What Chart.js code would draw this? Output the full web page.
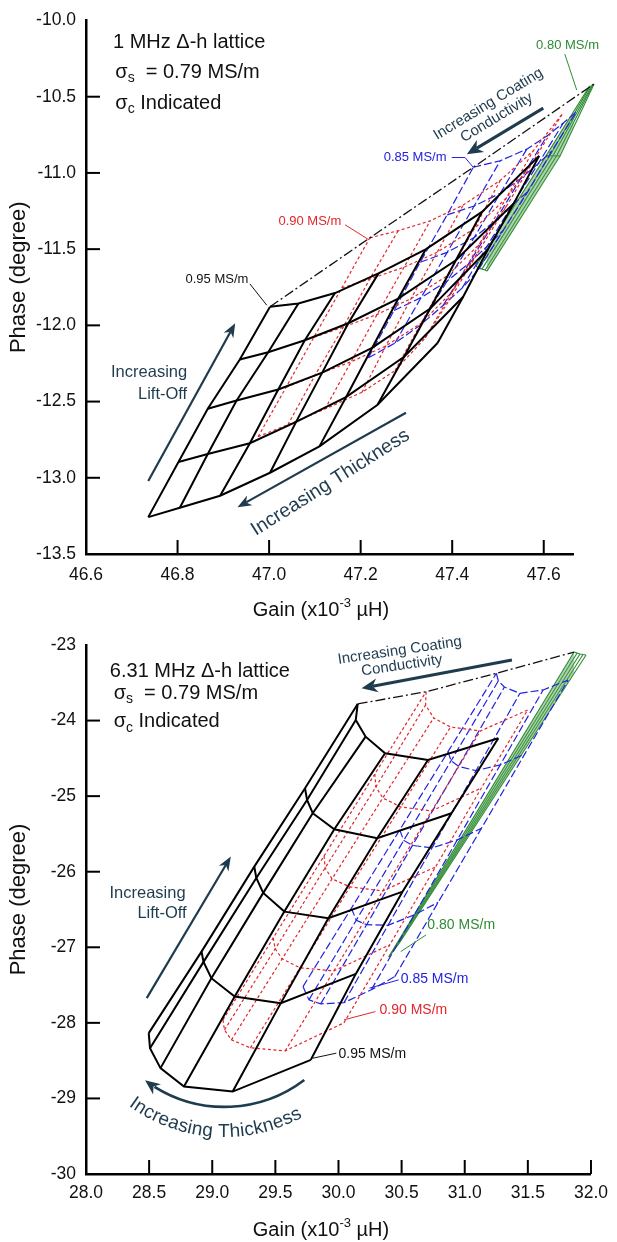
<!DOCTYPE html>
<html>
<head>
<meta charset="utf-8">
<script src="https://cdn.jsdelivr.net/npm/chart.js@4.4.0/dist/chart.umd.min.js"></script>
<style>
    html, body { margin: 0; padding: 0; background: #fff; }
    #wrap { position: relative; width: 617px; height: 1242px; overflow: hidden; }
    #wrap canvas { position: absolute; left: 0; }
    #topChart { top: 0; }
    #bottomChart { top: 610px; }
</style>
</head>
<body>
<div id="wrap">
    <canvas id="topChart" width="617" height="632"></canvas>
    <canvas id="bottomChart" width="617" height="632"></canvas>
</div>
<script>
// ---- 1 MHz lattice (gain x10^-3 uH, phase deg); each column = one thickness, low -> high lift-off
const topXTicks = [46.6, 46.8, 47.0, 47.2, 47.4, 47.6];
const topYTicks = [-13.5, -13.0, -12.5, -12.0, -11.5, -11.0, -10.5, -10.0];

const mhz1Black = [
    [[46.736, -13.258], [46.802, -12.896], [46.866, -12.547], [46.936, -12.224], [47.002, -11.878]],
    [[46.805, -13.197], [46.866, -12.844], [46.929, -12.493], [46.998, -12.176], [47.064, -11.857]],
    [[46.893, -13.118], [46.958, -12.773], [47.020, -12.421], [47.078, -12.098], [47.144, -11.788]],
    [[47.002, -12.967], [47.059, -12.633], [47.116, -12.310], [47.173, -11.986], [47.239, -11.659]],
    [[47.110, -12.794], [47.168, -12.471], [47.225, -12.148], [47.282, -11.825], [47.342, -11.502]],
    [[47.237, -12.521], [47.295, -12.206], [47.352, -11.890], [47.408, -11.573], [47.465, -11.256]],
    [[47.368, -12.116], [47.424, -11.812], [47.478, -11.502], [47.535, -11.198], [47.590, -10.888]]
];
const mhz1Red = [
    [[46.976, -12.730], [47.037, -12.407], [47.098, -12.077], [47.159, -11.754], [47.220, -11.426]],
    [[47.041, -12.652], [47.100, -12.329], [47.162, -12.012], [47.220, -11.696], [47.282, -11.379]],
    [[47.122, -12.549], [47.179, -12.239], [47.236, -11.928], [47.295, -11.618], [47.352, -11.314]],
    [[47.203, -12.439], [47.255, -12.135], [47.310, -11.825], [47.367, -11.521], [47.424, -11.211]],
    [[47.275, -12.297], [47.332, -11.986], [47.389, -11.676], [47.448, -11.366], [47.505, -11.049]],
    [[47.341, -12.083], [47.400, -11.780], [47.459, -11.469], [47.518, -11.166], [47.577, -10.855]],
    [[47.400, -11.805], [47.459, -11.508], [47.520, -11.211], [47.579, -10.913], [47.640, -10.616]]
];
const mhz1Blue = [
    [[47.217, -12.213], [47.273, -11.902], [47.330, -11.586], [47.389, -11.275], [47.446, -10.963]],
    [[47.275, -12.116], [47.332, -11.818], [47.389, -11.521], [47.448, -11.217], [47.505, -10.920]],
    [[47.330, -11.999], [47.389, -11.709], [47.448, -11.424], [47.505, -11.133], [47.563, -10.844]],
    [[47.380, -11.870], [47.437, -11.592], [47.494, -11.314], [47.550, -11.036], [47.607, -10.758]],
    [[47.422, -11.754], [47.476, -11.482], [47.531, -11.211], [47.588, -10.939], [47.643, -10.672]],
    [[47.457, -11.637], [47.511, -11.379], [47.566, -11.120], [47.618, -10.855], [47.672, -10.597]]
];
const mhz1Green = [
    [[47.452, -11.612], [47.605, -10.888], [47.699, -10.435]],
    [[47.459, -11.625], [47.613, -10.888], [47.702, -10.429]],
    [[47.465, -11.631], [47.620, -10.888], [47.706, -10.422]],
    [[47.472, -11.637], [47.628, -10.888], [47.708, -10.419]],
    [[47.476, -11.644], [47.636, -10.888], [47.710, -10.416]]
];
const mhz1Trend = [[47.002, -11.878], [47.220, -11.426], [47.446, -10.963], [47.710, -10.416]];

// ---- 6.31 MHz lattice
const bottomXTicks = [28.0, 28.5, 29.0, 29.5, 30.0, 30.5, 31.0, 31.5, 32.0];
const bottomYTicks = [-30, -29, -28, -27, -26, -25, -24, -23];

const mhz631Black = [
    [[28.497, -28.136], [28.915, -27.057], [29.333, -25.933], [29.735, -24.895], [30.152, -23.780]],
    [[28.507, -28.335], [28.931, -27.193], [29.349, -26.082], [29.751, -25.050], [30.137, -23.992]],
    [[28.590, -28.599], [28.993, -27.409], [29.404, -26.280], [29.796, -25.226], [30.215, -24.213]],
    [[28.776, -28.843], [29.178, -27.652], [29.571, -26.528], [29.967, -25.438], [30.369, -24.433]],
    [[29.162, -28.909], [29.543, -27.739], [29.920, -26.615], [30.307, -25.557], [30.709, -24.521]],
    [[29.781, -28.489], [30.137, -27.352], [30.508, -26.263], [30.895, -25.226], [31.266, -24.234]]
];
const mhz631Red = [
    [[29.085, -27.960], [29.483, -26.876], [29.886, -25.791], [30.288, -24.706], [30.694, -23.618]],
    [[29.097, -28.093], [29.499, -27.021], [29.894, -25.950], [30.296, -24.878], [30.690, -23.794]],
    [[29.152, -28.225], [29.554, -27.153], [29.949, -26.095], [30.351, -25.024], [30.754, -23.966]],
    [[29.302, -28.331], [29.696, -27.272], [30.091, -26.201], [30.493, -25.143], [30.888, -24.085]],
    [[29.578, -28.370], [29.964, -27.312], [30.351, -26.254], [30.738, -25.196], [31.124, -24.138]],
    [[30.043, -28.000], [30.406, -26.968], [30.769, -25.937], [31.132, -24.892], [31.498, -23.860]]
];
const mhz631Blue = [
    [[29.719, -27.520], [30.102, -26.483], [30.485, -25.447], [30.868, -24.411], [31.251, -23.374]],
    [[29.766, -27.696], [30.141, -26.642], [30.517, -25.586], [30.892, -24.532], [31.266, -23.476]],
    [[29.859, -27.749], [30.223, -26.701], [30.586, -25.652], [30.950, -24.605], [31.314, -23.556]],
    [[30.044, -27.732], [30.392, -26.709], [30.741, -25.685], [31.089, -24.663], [31.437, -23.639]],
    [[30.260, -27.563], [30.600, -26.571], [30.941, -25.579], [31.281, -24.587], [31.621, -23.595]],
    [[30.446, -27.388], [30.789, -26.406], [31.132, -25.426], [31.475, -24.444], [31.819, -23.463]]
];
const mhz631Green = [
    [[30.398, -27.127], [31.866, -23.093]],
    [[30.422, -27.074], [31.890, -23.106]],
    [[30.446, -27.021], [31.913, -23.119]],
    [[30.469, -26.968], [31.937, -23.126]],
    [[30.493, -26.915], [31.961, -23.132]]
];
const mhz631Trend = [[30.152, -23.780], [30.694, -23.618], [31.251, -23.374], [31.866, -23.093]];

const FONT = "'Liberation Sans', Arial, Helvetica, sans-serif";
const INK = '#1f3b4e';
const RED = '#e3262b';
const BLUE = '#2222e0';
const GREEN = '#2e8b34';

const styles = {
    black: { color: '#000', width: 2, dash: [] },
    red: { color: RED, width: 1.2, dash: [3, 2.5] },
    blue: { color: BLUE, width: 1.2, dash: [8, 3] },
    green: { color: GREEN, width: 1.1, dash: [] },
    trend: { color: '#111', width: 1.3, dash: [10, 3, 2, 3] }
};

function lineSet(points, style) {
    return {
        data: points.map(([x, y]) => ({ x, y })),
        showLine: true,
        pointRadius: 0,
        borderColor: style.color,
        borderWidth: style.width,
        borderDash: style.dash,
        fill: false,
        tension: 0,
        clip: false
    };
}

// lift-off lines (columns) plus thickness lines (rows through the same nodes)
function latticeSets(columns, style) {
    const sets = columns.map(col => lineSet(col, style));
    for (let i = 0; i < columns[0].length; i++) {
        sets.push(lineSet(columns.map(col => col[i]), style));
    }
    return sets;
}

function axisConfig(ticks, min, max, decimals, padding, fitSize, isY) {
    return {
        type: 'linear',
        min: min,
        max: max,
        afterBuildTicks: axis => { axis.ticks = ticks.map(v => ({ value: v })); },
        afterFit: scale => {
            if (isY) scale.width = fitSize; else scale.height = fitSize;
        },
        ticks: {
            autoSkip: false,
            maxRotation: 0,
            padding: padding,
            color: '#111',
            font: { size: 17.5, family: FONT },
            callback: v => Number(v).toFixed(decimals)
        },
        grid: { display: false, drawTicks: false },
        border: { display: true, color: '#000', width: 2.5 }
    };
}

// ---- drawing helpers for the annotations
function toPx(chart, pt) {
    return [chart.scales.x.getPixelForValue(pt[0]), chart.scales.y.getPixelForValue(pt[1])];
}

function drawParts(ctx, parts, x, y, align) {
    let total = 0;
    parts.forEach(p => { ctx.font = p[1] + 'px ' + FONT; total += ctx.measureText(p[0]).width; });
    let cx = align === 'center' ? x - total / 2 : (align === 'right' ? x - total : x);
    ctx.textAlign = 'left';
    ctx.textBaseline = 'middle';
    parts.forEach(p => {
        ctx.font = p[1] + 'px ' + FONT;
        ctx.fillText(p[0], cx, y + (p[2] || 0));
        cx += ctx.measureText(p[0]).width;
    });
}

function arrowHead(ctx, tip, ang, len, half) {
    const c = Math.cos(ang), s = Math.sin(ang);
    ctx.beginPath();
    ctx.moveTo(tip[0], tip[1]);
    ctx.lineTo(tip[0] - len * c - half * s, tip[1] - len * s + half * c);
    ctx.lineTo(tip[0] - len * 0.7 * c, tip[1] - len * 0.7 * s);
    ctx.lineTo(tip[0] - len * c + half * s, tip[1] - len * s - half * c);
    ctx.closePath();
    ctx.fill();
}

function drawArrow(ctx, a, b, width, len, half) {
    const ang = Math.atan2(b[1] - a[1], b[0] - a[0]);
    ctx.lineWidth = width;
    ctx.beginPath();
    ctx.moveTo(a[0], a[1]);
    ctx.lineTo(b[0] - Math.cos(ang) * len * 0.7, b[1] - Math.sin(ang) * len * 0.7);
    ctx.stroke();
    arrowHead(ctx, b, ang, len, half);
}

function drawPolyline(ctx, pts, color, width) {
    ctx.strokeStyle = color;
    ctx.lineWidth = width;
    ctx.beginPath();
    pts.forEach((p, i) => (i ? ctx.lineTo(p[0], p[1]) : ctx.moveTo(p[0], p[1])));
    ctx.stroke();
}

function drawRotated(ctx, lines, center, angleDeg, size, color) {
    ctx.save();
    ctx.translate(center[0], center[1]);
    ctx.rotate(angleDeg * Math.PI / 180);
    ctx.fillStyle = color;
    ctx.font = size + 'px ' + FONT;
    ctx.textAlign = 'center';
    ctx.textBaseline = 'middle';
    lines.forEach(l => ctx.fillText(l[0], l[1], l[2]));
    ctx.restore();
}

function drawArcText(ctx, text, c, r, midAngle, size, color) {
    ctx.font = size + 'px ' + FONT;
    ctx.fillStyle = color;
    const total = ctx.measureText(text).width;
    let run = 0;
    for (const ch of text) {
        const w = ctx.measureText(ch).width;
        const a = midAngle + (total / 2 - run - w / 2) / r;
        ctx.save();
        ctx.translate(c[0] + r * Math.cos(a), c[1] + r * Math.sin(a));
        ctx.rotate(a - Math.PI / 2);
        ctx.textAlign = 'center';
        ctx.textBaseline = 'middle';
        ctx.fillText(ch, 0, 0);
        ctx.restore();
        run += w;
    }
}

function drawAxisExtras(chart) {
    const { ctx, chartArea, scales: { x, y } } = chart;
    ctx.save();
    ctx.strokeStyle = '#000';
    ctx.lineWidth = 2;
    x.ticks.forEach(t => {
        const p = x.getPixelForValue(t.value);
        if (Math.abs(p - chartArea.left) < 1) return;
        ctx.beginPath();
        ctx.moveTo(p, chartArea.bottom);
        ctx.lineTo(p, chartArea.bottom - 14);
        ctx.stroke();
    });
    y.ticks.forEach(t => {
        const p = y.getPixelForValue(t.value);
        if (Math.abs(p - chartArea.bottom) < 1 || Math.abs(p - chartArea.top) < 1) return;
        ctx.beginPath();
        ctx.moveTo(chartArea.left, p);
        ctx.lineTo(chartArea.left + 14, p);
        ctx.stroke();
    });
    // axis titles
    ctx.fillStyle = '#111';
    ctx.save();
    ctx.translate(19, (chartArea.top + chartArea.bottom) / 2 - 10);
    ctx.rotate(-Math.PI / 2);
    drawParts(ctx, [['Phase (degree)', 22]], 0, 0, 'center');
    ctx.restore();
    drawParts(ctx, [['Gain (x10', 20], ['-3', 13, -7], [' µH)', 20]], 321, chartArea.bottom + 56, 'center');
    ctx.restore();
}

function drawTitleBlock(chart, freq, anchors) {
    const ctx = chart.ctx;
    ctx.fillStyle = '#111';
    let p = toPx(chart, anchors[0]);
    drawParts(ctx, [[freq + ' Δ-h lattice', 20]], p[0], p[1], 'left');
    p = toPx(chart, anchors[1]);
    drawParts(ctx, [['σ', 20], ['s', 14, 6], ['  = 0.79 MS/m', 20]], p[0], p[1], 'left');
    p = toPx(chart, anchors[2]);
    drawParts(ctx, [['σ', 20], ['c', 14, 6], [' Indicated', 20]], p[0], p[1], 'left');
}

function drawLabel(chart, text, at, pointer, color, size) {
    const ctx = chart.ctx;
    const p = toPx(chart, at);
    ctx.fillStyle = color;
    drawParts(ctx, [[text, size]], p[0], p[1], 'center');
    drawPolyline(ctx, pointer.map(q => toPx(chart, q)), color, 1);
}

function drawTopDecor(chart) {
    const ctx = chart.ctx;
    ctx.save();
    drawTitleBlock(chart, '1 MHz', [[46.659, -10.144], [46.664, -10.338], [46.664, -10.543]]);

    drawLabel(chart, '0.95 MS/m', [46.886, -11.697], [[46.958, -11.728], [46.995, -11.868]], '#111', 13);
    drawLabel(chart, '0.90 MS/m', [47.089, -11.318], [[47.166, -11.340], [47.217, -11.437]], RED, 13);
    drawLabel(chart, '0.85 MS/m', [47.319, -10.898], [[47.399, -10.899], [47.428, -10.899], [47.446, -10.963]], BLUE, 13);
    drawLabel(chart, '0.80 MS/m', [47.652, -10.166], [[47.646, -10.220], [47.672, -10.456]], GREEN, 13);

    ctx.strokeStyle = INK;
    ctx.fillStyle = INK;
    drawArrow(ctx, toPx(chart, [46.736, -13.021]), toPx(chart, [46.926, -11.986]), 2.2, 14, 5.5);
    drawArrow(ctx, toPx(chart, [47.299, -12.573]), toPx(chart, [46.931, -13.193]), 2.2, 14, 5.5);
    drawArrow(ctx, toPx(chart, [47.599, -10.575]), toPx(chart, [47.432, -10.877]), 3, 16, 7);

    let p = toPx(chart, [46.821, -12.312]);
    drawParts(ctx, [['Increasing', 16.5]], p[0], p[1], 'right');
    p = toPx(chart, [46.821, -12.456]);
    drawParts(ctx, [['Lift-Off', 16.5]], p[0], p[1], 'right');

    drawRotated(ctx, [['Increasing Thickness', 0, 0]], toPx(chart, [47.134, -13.032]), -32.2, 19.5, INK);
    drawRotated(ctx, [['Increasing Coating', 0, 0], ['Conductivity', 0, 16]], toPx(chart, [47.479, -10.548]), -31.3, 15, INK);
    ctx.restore();
}

function drawBottomDecor(chart) {
    const ctx = chart.ctx;
    ctx.save();
    drawTitleBlock(chart, '6.31 MHz', [[28.189, -23.353], [28.219, -23.639], [28.219, -24.015]]);

    drawLabel(chart, '0.95 MS/m', [30.268, -28.410], [[29.796, -28.468], [29.983, -28.401]], '#111', 14);
    drawLabel(chart, '0.90 MS/m', [30.593, -27.837], [[30.044, -27.960], [30.292, -27.851]], RED, 14);
    drawLabel(chart, '0.85 MS/m', [30.761, -27.422], [[30.245, -27.541], [30.477, -27.431]], BLUE, 14);
    drawLabel(chart, '0.80 MS/m', [30.972, -26.704], [[30.493, -27.057], [30.694, -26.836]], GREEN, 14);

    ctx.strokeStyle = INK;
    ctx.fillStyle = INK;
    drawArrow(ctx, toPx(chart, [28.481, -27.673]), toPx(chart, [29.147, -25.800]), 2.2, 14, 5.5);
    drawArrow(ctx, toPx(chart, [31.374, -23.198]), toPx(chart, [30.183, -23.573]), 3, 16, 7);

    // curved thickness arrow
    const c = toPx(chart, [29.097, -27.365]);
    const a0 = 52.8 * Math.PI / 180, a1 = 122 * Math.PI / 180;
    ctx.lineWidth = 2.6;
    ctx.beginPath();
    ctx.arc(c[0], c[1], 132, a0, a1);
    ctx.stroke();
    const a2 = 127 * Math.PI / 180;
    arrowHead(ctx, [c[0] + 132 * Math.cos(a2), c[1] + 132 * Math.sin(a2)], a2 + Math.PI / 2, 15, 6.5);
    drawArcText(ctx, 'Increasing Thickness', c, 157, 93.7 * Math.PI / 180, 19, INK);

    let p = toPx(chart, [28.789, -26.284]);
    drawParts(ctx, [['Increasing', 16.5]], p[0], p[1], 'right');
    p = toPx(chart, [28.797, -26.549]);
    drawParts(ctx, [['Lift-Off', 16.5]], p[0], p[1], 'right');

    drawRotated(ctx, [['Increasing Coating', 0, 0], ['Conductivity', 0, 15]], toPx(chart, [30.485, -23.075]), -8.4, 15, INK);
    ctx.restore();
}

function createLatticeChart(canvasId, cfg) {
    const canvas = document.getElementById(canvasId);
    if (!canvas) {
        console.error('Canvas not found: ' + canvasId);
        return null;
    }
    const greenSets = latticeSets(cfg.green, styles.green);
    // light green wash between the outer 0.80 MS/m lift-off lines
    greenSets[0].fill = '+' + (cfg.green.length - 1);
    greenSets[0].backgroundColor = 'rgba(80, 160, 80, 0.45)';

    const datasets = [].concat(
        latticeSets(cfg.black, styles.black),
        [lineSet(cfg.trend, styles.trend)],
        latticeSets(cfg.red, styles.red),
        latticeSets(cfg.blue, styles.blue),
        greenSets
    );
    return new Chart(canvas.getContext('2d'), {
        type: 'scatter',
        data: { datasets: datasets },
        options: {
            responsive: false,
            animation: false,
            events: [],
            layout: { padding: cfg.padding },
            plugins: { legend: { display: false }, tooltip: { enabled: false } },
            scales: {
                x: axisConfig(cfg.xTicks, cfg.xRange[0], cfg.xRange[1], 1, cfg.xPad, cfg.xHeight, false),
                y: axisConfig(cfg.yTicks, cfg.yRange[0], cfg.yRange[1], cfg.yDecimals, 10, 86, true)
            }
        },
        plugins: [{
            id: 'decor' + canvasId,
            afterDatasetsDraw(chart) {
                drawAxisExtras(chart);
                cfg.decor(chart);
            }
        }]
    });
}

Chart.defaults.font.family = FONT;

createLatticeChart('topChart', {
    black: mhz1Black, red: mhz1Red, blue: mhz1Blue, green: mhz1Green, trend: mhz1Trend,
    xTicks: topXTicks, yTicks: topYTicks,
    xRange: [46.6, 47.665], yRange: [-13.5, -10.0], yDecimals: 1,
    padding: { top: 12.7, right: 43.5, left: 0, bottom: 0 },
    xHeight: 78, xPad: 11,
    decor: drawTopDecor
});

createLatticeChart('bottomChart', {
    black: mhz631Black, red: mhz631Red, blue: mhz631Blue, green: mhz631Green, trend: mhz631Trend,
    xTicks: bottomXTicks, yTicks: bottomYTicks,
    xRange: [28.0, 32.0], yRange: [-30, -23], yDecimals: 0,
    padding: { top: 35, right: 24, left: 0, bottom: 0 },
    xHeight: 68, xPad: 9,
    decor: drawBottomDecor
});
</script>
</body>
</html>
